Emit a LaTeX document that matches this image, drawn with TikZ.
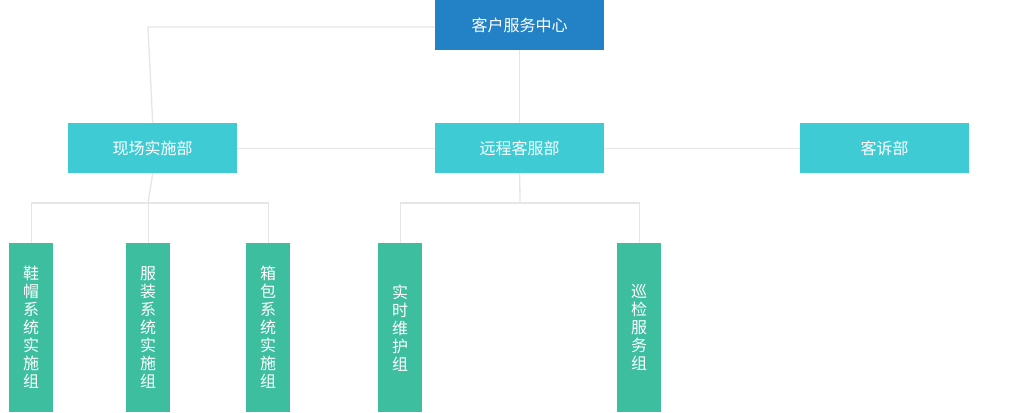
\documentclass[tikz,border=0pt]{standalone}
\usepackage{fontspec}
\newfontfamily\cjk{Noto Sans CJK SC}
\definecolor{topc}{HTML}{2282C5}
\definecolor{midc}{HTML}{3ECBD4}
\definecolor{lowc}{HTML}{3DBE9F}
\definecolor{linec}{HTML}{E6E6E6}
\begin{document}
\begin{tikzpicture}[x=1pt,y=-1pt,
  box/.style={fill=#1,text=white,font=\cjk\fontsize{16}{18}\selectfont,inner sep=0pt,anchor=north west},
  conn/.style={draw=linec,line width=1.3pt}]
\useasboundingbox (0,0) rectangle (1027,412);
\fill[white] (0,0) rectangle (1027,412);
\node[box=topc,minimum width=169pt,minimum height=50pt] (top) at (435,0) {客户服务中心};
\node[box=midc,minimum width=169pt,minimum height=50pt] (xc) at (68,123) {现场实施部};
\node[box=midc,minimum width=169pt,minimum height=50pt] (yc) at (435,123) {远程客服部};
\node[box=midc,minimum width=169pt,minimum height=50pt] (ks) at (800,123) {客诉部};
\foreach \n/\x/\t in {a/9/{鞋\\帽\\系\\统\\实\\施\\组},b/126/{服\\装\\系\\统\\实\\施\\组},c/246/{箱\\包\\系\\统\\实\\施\\组},d/378/{实\\时\\维\\护\\组},e/617/{巡\\检\\服\\务\\组}}
  \node[box=lowc,minimum width=44pt,minimum height=169pt,align=center] (\n) at (\x,243) {\t};
\coordinate (tl) at (148,27);
\draw[conn] (top.west|-tl) -- (tl) -- (xc.north);
\draw[conn] (top.south) -- (yc.north);
\draw[conn] (xc.east) -- (yc.west);
\draw[conn] (yc.east) -- (ks.west);
\coordinate (h1) at (148,203);
\coordinate (h2) at (520,203);
\draw[conn] (xc.south) -- (h1);
\draw[conn] (a.north) |- (h1) -| (c.north);
\draw[conn] (b.north) -- (b.north|-h1);
\draw[conn] (yc.south) -- (h2);
\draw[conn] (d.north) |- (h2) -| (e.north);
\end{tikzpicture}
\end{document}
